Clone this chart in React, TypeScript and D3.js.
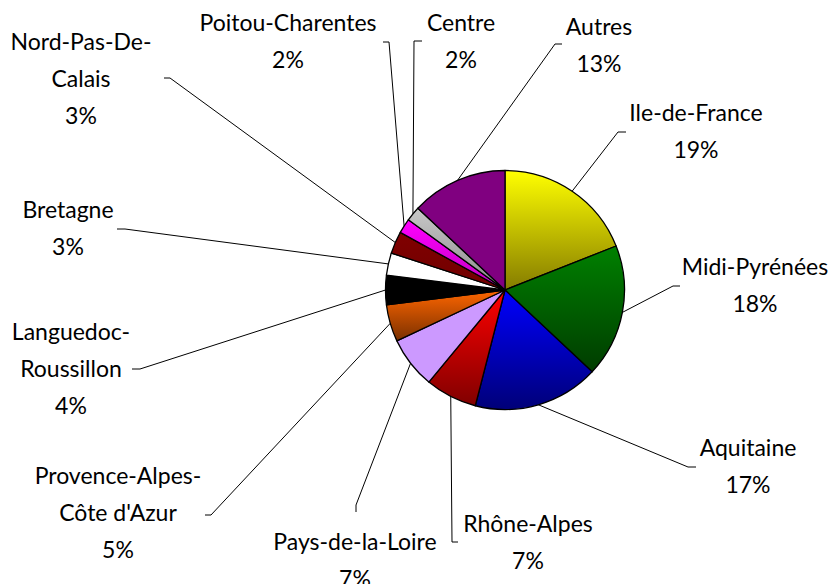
import * as d3 from "d3";

const regions = [
  "Ile-de-France",
  "Midi-Pyrénées",
  "Aquitaine",
  "Rhône-Alpes",
  "Pays-de-la-Loire",
  "Provence-Alpes-Côte d'Azur",
  "Languedoc-Roussillon",
  "Bretagne",
  "Nord-Pas-De-Calais",
  "Poitou-Charentes",
  "Centre",
  "Autres",
];
const shares = [19, 18, 17, 7, 7, 5, 4, 3, 3, 2, 2, 13];
const labelLines = [
  ["Ile-de-France"],
  ["Midi-Pyrénées"],
  ["Aquitaine"],
  ["Rhône-Alpes"],
  ["Pays-de-la-Loire"],
  ["Provence-Alpes-", "Côte d'Azur"],
  ["Languedoc-", "Roussillon"],
  ["Bretagne"],
  ["Nord-Pas-De-", "Calais"],
  ["Poitou-Charentes"],
  ["Centre"],
  ["Autres"],
];

// gradient top / bottom colours per slice
const fills: [string, string][] = [
  ["#ffff00", "#857c00"],
  ["#008000", "#003c00"],
  ["#0000ff", "#000078"],
  ["#ff0000", "#800000"],
  ["#cc99ff", "#cc99ff"],
  ["#ff6600", "#7a3000"],
  ["#000000", "#000000"],
  ["#ffffff", "#ffffff"],
  ["#800000", "#700000"],
  ["#ff00ff", "#c000c0"],
  ["#c8c8c8", "#8a8a8a"],
  ["#800080", "#800080"],
];

// label layout: text centre x, first baseline y, and the leader's label-side points
const labelLayout = [
  { x: 696, y: 121, a: [626, 132], b: [618, 132] },
  { x: 755, y: 275, a: [680, 286], b: [673, 286] },
  { x: 748, y: 456, a: [696, 467], b: [688, 467] },
  { x: 528, y: 532, a: [458, 542], b: [452, 542] },
  { x: 355, y: 550, a: [356, 512], b: [356, 505] },
  { x: 118, y: 484, a: [205, 515], b: [211, 515] },
  { x: 71, y: 340, a: [132, 369], b: [140, 369] },
  { x: 68, y: 218, a: [117, 229], b: [125, 229] },
  { x: 81, y: 50, a: [164, 78], b: [170, 78] },
  { x: 288, y: 31, a: [383, 42], b: [389, 42] },
  { x: 461, y: 31, a: [422, 41], b: [414, 41] },
  { x: 599, y: 35, a: [562, 44], b: [555, 44] },
];

const width = 829;
const height = 584;
const cx = 505;
const cy = 290;
const radius = 119.5;
const lineGap = 37;

export default function App() {
  const total = d3.sum(shares);
  const pie = d3
    .pie<number>()
    .sort(null)
    .value((d) => d);
  const arcs = pie(shares);
  const arc = d3.arc<d3.PieArcDatum<number>>().innerRadius(0).outerRadius(radius);
  const edge = d3.arc<d3.PieArcDatum<number>>().innerRadius(radius).outerRadius(radius);
  const pct = (v: number) => `${Math.round((v / total) * 100)}%`;

  return (
    <svg
      width={width}
      height={height}
      style={{ position: "absolute", left: 0, top: 0, background: "#fff" }}
      fontFamily="Lato, 'Open Sans', sans-serif"
      fontSize={23}
    >
      <defs>
        {fills.map((f, i) => (
          <linearGradient key={i} id={`g${i}`} x1="0" y1="0" x2="0" y2="1">
            <stop offset="0" stopColor={f[0]} />
            <stop offset="1" stopColor={f[1]} />
          </linearGradient>
        ))}
      </defs>
      <g transform={`translate(${cx},${cy})`}>
        {arcs.map((d, i) => (
          <path
            key={regions[i]}
            d={arc(d) ?? ""}
            fill={`url(#g${i})`}
            stroke="#000"
            strokeWidth={1.3}
            strokeLinejoin="round"
          />
        ))}
      </g>
      {arcs.map((d, i) => {
        const [ex, ey] = edge.centroid(d);
        const l = labelLayout[i];
        const pts = [l.a, l.b, [cx + ex, cy + ey]];
        return (
          <polyline
            key={`l${i}`}
            points={pts.map((p) => p.join(",")).join(" ")}
            fill="none"
            stroke="#000"
            strokeWidth={1}
          />
        );
      })}
      {arcs.map((d, i) => {
        const l = labelLayout[i];
        const lines = [...labelLines[i], pct(d.data)];
        return (
          <text key={`t${i}`} textAnchor="middle" fill="#000">
            {lines.map((s, j) => (
              <tspan key={j} x={l.x} y={l.y + j * lineGap}>
                {s}
              </tspan>
            ))}
          </text>
        );
      })}
    </svg>
  );
}
